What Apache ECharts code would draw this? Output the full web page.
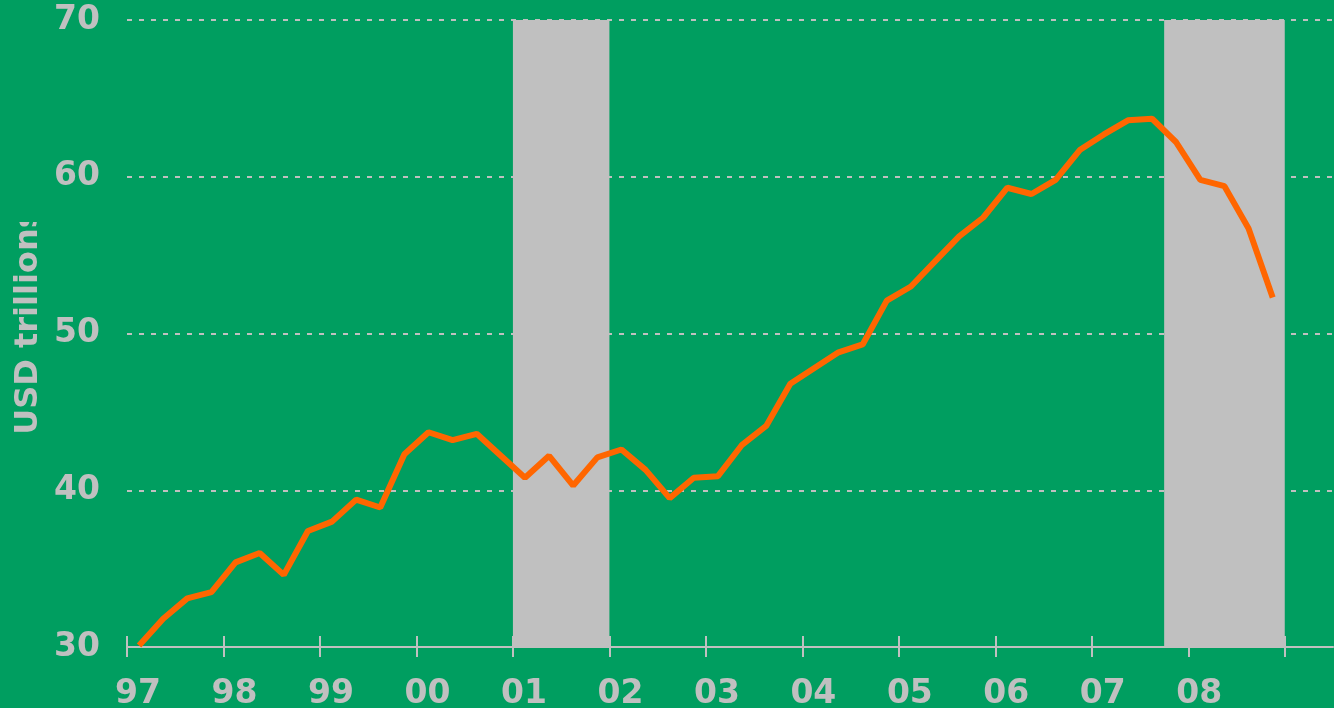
<!DOCTYPE html>
<html>
<head>
<meta charset="utf-8">
<title>USD trillions</title>
<script src="https://cdn.jsdelivr.net/npm/echarts@6/dist/echarts.min.js"></script>
<style>
  html, body { margin: 0; padding: 0; background: #009e60; }
  #chart { width: 1334px; height: 708px; }
</style>
</head>
<body>
<div id="chart"></div>
<script>
// quarterly values, 1997 Q1 .. 2008 Q4
var startYear = 1997;
var values = [
  30.1, 31.8, 33.1, 33.5, 35.4, 36.0, 34.6, 37.4,
  38.0, 39.4, 38.9, 42.3, 43.7, 43.2, 43.6, 42.2,
  40.8, 42.2, 40.3, 42.1, 42.6, 41.3, 39.5, 40.8,
  40.9, 42.9, 44.1, 46.8, 47.8, 48.8, 49.3, 52.1,
  53.0, 54.6, 56.2, 57.4, 59.3, 58.9, 59.8, 61.7,
  62.7, 63.6, 63.7, 62.2, 59.8, 59.4, 56.7, 52.3
];
// tick years on the x axis (the last one has no label)
var tickYears = [1997, 1998, 1999, 2000, 2001, 2002, 2003, 2004, 2005, 2006, 2007, 2008, 2009];
var labelYears = tickYears.slice(0, -1);
// shaded periods (year fractions)
var recessions = [
  [2001.0, 2002.0],
  [2007.75, 2009.0]
];
var yTicks = { min: 30, max: 70, step: 10 };

var font = '"DejaVu Sans", Verdana, sans-serif';
var grey = '#c0c0c0';
var green = '#009e60';

// each quarter sits in the middle of its quarter on a year axis
var points = values.map(function (v, i) {
  return [startYear + Math.floor(i / 4) + ((i % 4) + 0.5) / 4, v];
});

var chart = echarts.init(document.getElementById('chart'));
chart.setOption({
  backgroundColor: green,
  animation: false,
  grid: { left: 127, right: 1, top: 20, bottom: 61, outerBoundsMode: 'none' },
  xAxis: [
    {
      type: 'value',
      min: 1997,
      max: 2009.5,
      axisLine: { lineStyle: { color: grey, width: 2 } },
      axisTick: {
        customValues: tickYears,
        length: 10,
        lineStyle: { color: grey, width: 2 }
      },
      axisLabel: {
        customValues: labelYears,
        color: grey,
        fontFamily: font,
        fontWeight: 'bold',
        fontSize: 33,
        margin: 31,
        padding: [0, 0, 0, 22],
        formatter: function (v) {
          return String(v).slice(2);
        }
      },
      splitLine: { show: false }
    },
    {
      type: 'value',
      min: 1997,
      max: 2009.5,
      position: 'bottom',
      axisLine: { show: false },
      axisTick: {
        customValues: tickYears,
        inside: true,
        length: 11,
        lineStyle: { color: grey, width: 2 }
      },
      axisLabel: { show: false },
      splitLine: { show: false }
    }
  ],
  yAxis: {
    type: 'value',
    min: yTicks.min,
    max: yTicks.max,
    interval: yTicks.step,
    axisLine: { show: false },
    axisTick: { show: false },
    axisLabel: {
      color: grey,
      fontFamily: font,
      fontWeight: 'bold',
      fontSize: 33,
      margin: 27,
      padding: [8, 0, 0, 0]
    },
    splitLine: {
      show: true,
      lineStyle: { color: grey, width: 2, type: [5, 7] }
    }
  },
  series: [
    {
      type: 'line',
      data: points,
      showSymbol: false,
      lineStyle: { color: '#ff6600', width: 6 },
      markArea: {
        silent: true,
        itemStyle: { color: grey, opacity: 1 },
        data: recessions.map(function (r) {
          return [{ xAxis: r[0] }, { xAxis: r[1] }];
        })
      },
      z: 3
    }
  ],
  graphic: [
    {
      type: 'text',
      x: 29,
      y: 322,
      rotation: Math.PI / 2,
      style: {
        text: 'USD trillions',
        fill: grey,
        font: 'bold 32px ' + font,
        textAlign: 'center',
        textVerticalAlign: 'middle'
      },
      z: 10
    },
    {
      type: 'rect',
      shape: { x: 0, y: 0, width: 52, height: 222 },
      style: { fill: green },
      z: 11
    }
  ]
});
</script>
</body>
</html>
